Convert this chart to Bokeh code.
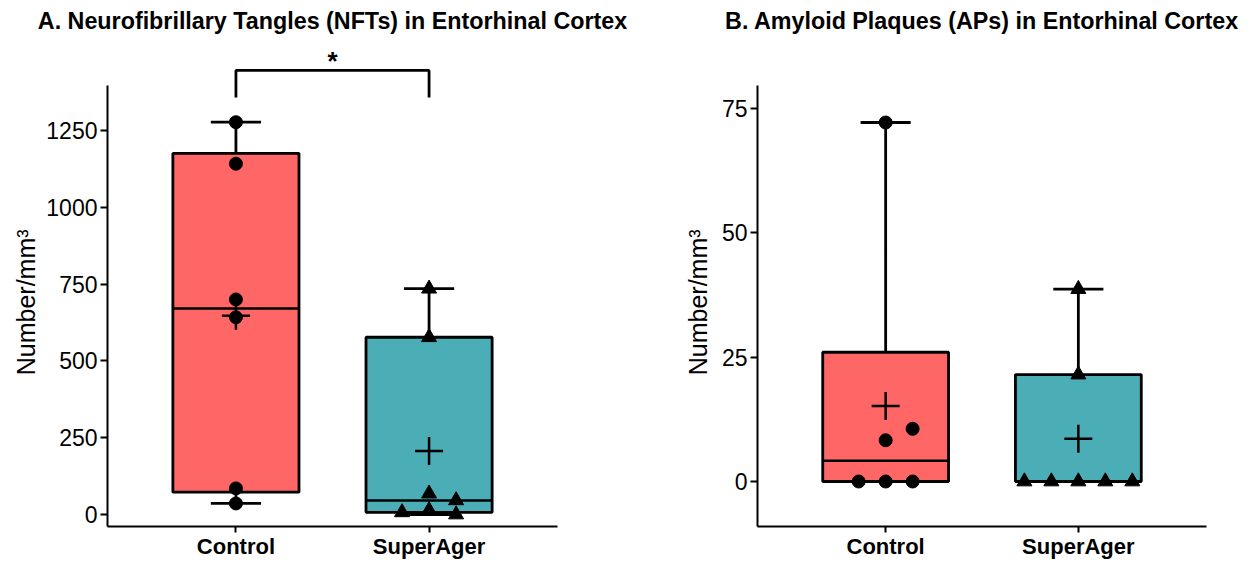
import numpy as np
from bokeh.plotting import figure
from bokeh.layouts import row
from bokeh.models import FixedTicker, Range1d
from bokeh.embed import file_html
from bokeh.resources import INLINE

# ---------------- data ----------------
groups = ["Control", "SuperAger"]
nft_control = [1277, 1142, 700, 642, 85, 36]
nft_superager = [735, 577, 68, 46, 14, 7, 0]
ap_control = [72.2, 8.3, 10.6, 0, 0, 0]
ap_superager = [38.7, 21.5, 0, 0, 0, 0, 0]
nft_ticks = [0, 250, 500, 750, 1000, 1250]
ap_ticks = [0, 25, 50, 75]
significance = "*"
y_label = "Number/mm³"

# ---------------- style ----------------
FILLS = ["#FF6666", "#4BAEB6"]
MARKERS = ["circle", "triangle"]
MSIZE = {"circle": 13, "triangle": 15}
FONT = "Liberation Sans"
LW = 2.8
BOX_W = 0.653
CAP_W = 0.26
STEP = 0.14
LABEL_PAD = "\u00a0" * 6


def swarm(vals, px_per_unit, thresh=12.0):
    placed, offs = [], []
    for v in vals:
        y = v * px_per_unit
        for s in [0, 1, -1, 2, -2, 3, -3]:
            if all(not (ps == s and abs(py - y) < thresh) for ps, py in placed):
                break
        placed.append((s, y))
        offs.append(s * STEP)
    return offs


def panel(title, series, y_start, y_end, axis_top, ticks, width, bl, br, px_per_unit,
          label_standoff, bracket=False):
    p = figure(width=width, height=561, x_range=Range1d(0.335, 2.665),
               y_range=Range1d(y_start, y_end), output_backend="svg",
               toolbar_location=None, min_border_left=bl, min_border_right=br,
               min_border_top=36, min_border_bottom=30)
    p.title.text = title
    p.title.align = "center"
    p.title.text_font = FONT
    p.title.text_font_size = "23.3px"
    p.title.text_font_style = "bold"
    p.title.text_color = "black"
    p.title.standoff = 5
    p.outline_line_color = None
    p.grid.visible = False
    p.background_fill_color = "white"
    p.border_fill_color = "white"

    for ax in (p.xaxis[0], p.yaxis[0]):
        ax.axis_line_width = 2
        ax.axis_line_color = "black"
        ax.major_tick_line_width = 2
        ax.major_tick_line_color = "black"
        ax.major_tick_in = 0
        ax.minor_tick_line_color = None
        ax.major_label_text_color = "black"
        ax.major_label_text_font = FONT

    xa = p.xaxis[0]
    xa.ticker = FixedTicker(ticks=[1, 2])
    xa.major_label_overrides = {1: groups[0], 2: groups[1]}
    xa.major_label_text_font_size = "22px"
    xa.major_label_text_font_style = "bold"
    xa.major_tick_out = 6
    xa.major_label_standoff = 1

    ya = p.yaxis[0]
    ya.ticker = FixedTicker(ticks=ticks)
    ya.bounds = (y_start, axis_top)
    ya.major_label_text_font_size = "23px"
    ya.major_tick_out = 7
    ya.major_label_standoff = 3
    ya.axis_label = y_label + LABEL_PAD
    ya.axis_label_text_font = FONT
    ya.axis_label_text_font_size = "25px"
    ya.axis_label_text_font_style = "normal"
    ya.axis_label_text_color = "black"
    ya.axis_label_standoff = label_standoff

    for i, vals in enumerate(series):
        x = i + 1
        v = np.array(vals, dtype=float)
        q1, med, q3 = np.percentile(v, [25, 50, 75], method="weibull")
        lo, hi, mean = v.min(), v.max(), v.mean()
        # whiskers
        p.segment(x0=[x, x], y0=[q3, lo], x1=[x, x], y1=[hi, q1], line_color="black", line_width=LW)
        p.segment(x0=[x - CAP_W / 2] * 2, y0=[hi, lo], x1=[x + CAP_W / 2] * 2, y1=[hi, lo],
                  line_color="black", line_width=LW)
        # box
        p.vbar(x=[x], width=BOX_W, bottom=[q1], top=[q3], fill_color=FILLS[i],
               line_color="black", line_width=LW)
        p.segment(x0=[x - BOX_W / 2], y0=[med], x1=[x + BOX_W / 2], y1=[med],
                  line_color="black", line_width=LW - 0.3)
        # points
        offs = swarm(vals, px_per_unit)
        p.scatter(x=[x + o for o in offs], y=vals, marker=MARKERS[i], size=MSIZE[MARKERS[i]],
                  fill_color="black", line_color="black")
        # mean
        p.scatter(x=[x], y=[mean], marker="cross", size=28, line_color="black", line_width=2.5)

    if bracket:
        top = max(max(s) for s in series)
        b_top = top * 1.132
        b_foot = top * 1.063
        p.line(x=[1, 1, 2, 2], y=[b_foot, b_top, b_top, b_foot], line_color="black", line_width=LW)
        p.text(x=[1.5], y=[top * 1.155], text=[significance], text_align="center",
               text_baseline="middle", text_font_size="26px", text_font_style="bold",
               text_color="black")
    return p


left = panel("A. Neurofibrillary Tangles (NFTs) in Entorhinal Cortex",
             [nft_control, nft_superager], -39, 1556, 1396, nft_ticks,
             628, 107, 71, 0.3072, 3, bracket=True)
right = panel("B. Amyloid Plaques (APs) in Entorhinal Cortex",
              [ap_control, ap_superager], -9.05, 89.5, 79.6, ap_ticks,
              615, 129, 37, 4.973, 7)

layout = row(left, right)
open("out.html", "w").write(file_html(layout, INLINE))
